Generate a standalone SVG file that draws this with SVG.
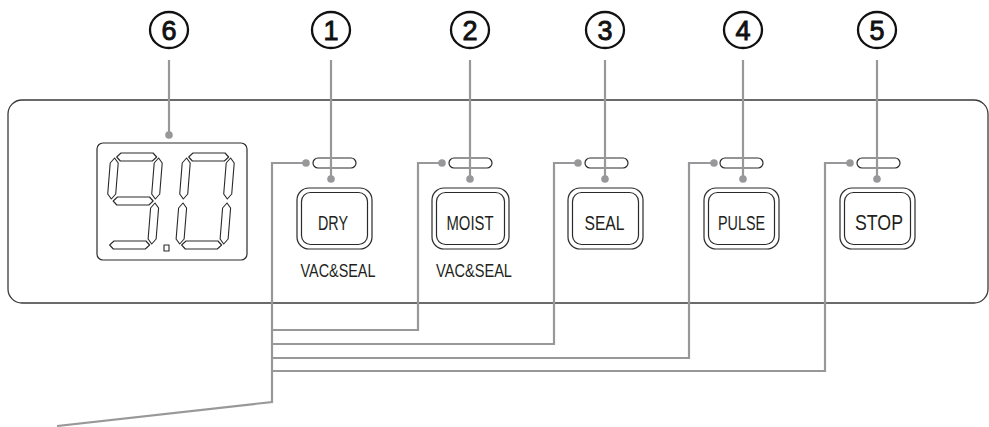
<svg xmlns="http://www.w3.org/2000/svg" xmlns:xlink="http://www.w3.org/1999/xlink" width="989" height="427" viewBox="0 0 989 427">
<style>
.panel{fill:none;stroke:#3a3a3a;stroke-width:1.3}
.btn{fill:none;stroke:#2a2a2a;stroke-width:1.2}
.seg{fill:none;stroke:#2a2a2a;stroke-width:1.1;stroke-linejoin:round}
.lead{fill:none;stroke:#98989b;stroke-width:2.2}
.dot{fill:#98989b}
.lbl{font-family:"Liberation Sans",Arial,sans-serif;fill:#231f20;text-anchor:middle}
.num{font-family:"Liberation Sans",Arial,sans-serif;font-size:27px;fill:#111;stroke:#111;stroke-width:0.9;text-anchor:middle}
.ring{fill:none;stroke:#111;stroke-width:2.3}
</style>
<defs>
<polygon id="sa" points="6,4 10,0 42,0 46,4 42,8 10,8"/>
<polygon id="sf" points="4,5 8,10 8,41 4,46 0,41 0,10"/>
<polygon id="sb" points="48,5 52,10 52,41 48,46 44,41 44,10"/>
<polygon id="sg" points="6,48 10,44 42,44 46,48 42,52 10,52"/>
<polygon id="se" points="4,50 8,55 8,86 4,91 0,86 0,55"/>
<polygon id="sc" points="48,50 52,55 52,86 48,91 44,86 44,55"/>
<polygon id="sd" points="6,92 10,88 42,88 46,92 42,96 10,96"/>
</defs>

<g id="panel">
<rect class="panel" x="8" y="100" width="980" height="203" rx="14"/>
</g>

<g id="display">
<rect class="btn" x="97" y="143" width="150" height="117" rx="6"/>
<g class="seg" transform="matrix(1,0,-0.08,1,111,153)">
<use xlink:href="#sa"/><use xlink:href="#sb"/><use xlink:href="#sc"/><use xlink:href="#sd"/><use xlink:href="#sf"/><use xlink:href="#sg"/>
</g>
<rect class="seg" x="164" y="245" width="5" height="6"/>
<g class="seg" transform="matrix(1,0,-0.08,1,183,153)">
<use xlink:href="#sa"/><use xlink:href="#sb"/><use xlink:href="#sc"/><use xlink:href="#sd"/><use xlink:href="#se"/><use xlink:href="#sf"/>
</g>
</g>

<g id="btn-dry">
<rect class="btn" x="313" y="158" width="43" height="10" rx="5"/>
<rect class="btn" x="297" y="188" width="75" height="61" rx="12"/>
<rect class="btn" x="301.5" y="192.5" width="66" height="52" rx="9"/>
<text class="lbl" x="333" y="230" font-size="19.5" textLength="30" lengthAdjust="spacingAndGlyphs">DRY</text>
<text class="lbl" x="338" y="277" font-size="18" textLength="75" lengthAdjust="spacingAndGlyphs">VAC&amp;SEAL</text>
</g>

<g id="btn-moist">
<rect class="btn" x="449" y="158" width="43" height="10" rx="5"/>
<rect class="btn" x="432" y="188" width="77" height="61" rx="12"/>
<rect class="btn" x="436.5" y="192.5" width="68" height="52" rx="9"/>
<text class="lbl" x="470" y="229.5" font-size="20" textLength="47" lengthAdjust="spacingAndGlyphs">MOIST</text>
<text class="lbl" x="474" y="276.5" font-size="18" textLength="76" lengthAdjust="spacingAndGlyphs">VAC&amp;SEAL</text>
</g>

<g id="btn-seal">
<rect class="btn" x="585" y="158" width="43" height="10" rx="5"/>
<rect class="btn" x="568" y="188" width="75" height="61" rx="12"/>
<rect class="btn" x="572.5" y="192.5" width="66" height="52" rx="9"/>
<text class="lbl" x="604.5" y="229.5" font-size="20" textLength="40" lengthAdjust="spacingAndGlyphs">SEAL</text>
</g>

<g id="btn-pulse">
<rect class="btn" x="720" y="158" width="43" height="10" rx="5"/>
<rect class="btn" x="704" y="188" width="75" height="61" rx="12"/>
<rect class="btn" x="708.5" y="192.5" width="66" height="52" rx="9"/>
<text class="lbl" x="741.5" y="229.5" font-size="20" textLength="47" lengthAdjust="spacingAndGlyphs">PULSE</text>
</g>

<g id="btn-stop">
<rect class="btn" x="857" y="158" width="43" height="10" rx="5"/>
<rect class="btn" x="840" y="188" width="75" height="61" rx="12"/>
<rect class="btn" x="844.5" y="192.5" width="66" height="52" rx="9"/>
<text class="lbl" x="879" y="229.5" font-size="22" textLength="48" lengthAdjust="spacingAndGlyphs">STOP</text>
</g>

<g id="callout-6"><ellipse class="ring" cx="169" cy="30" rx="19" ry="18"/><text class="num" x="169" y="39.5">6</text></g>
<g id="callout-1"><ellipse class="ring" cx="331" cy="30" rx="19" ry="18"/><text class="num" x="331" y="39.5">1</text></g>
<g id="callout-2"><ellipse class="ring" cx="470" cy="30" rx="19" ry="18"/><text class="num" x="470" y="39.5">2</text></g>
<g id="callout-3"><ellipse class="ring" cx="605" cy="30" rx="19" ry="18"/><text class="num" x="605" y="39.5">3</text></g>
<g id="callout-4"><ellipse class="ring" cx="743" cy="30" rx="19" ry="18"/><text class="num" x="743" y="39.5">4</text></g>
<g id="callout-5"><ellipse class="ring" cx="877" cy="30" rx="19" ry="18"/><text class="num" x="877" y="39.5">5</text></g>

<g id="connectors">
<path class="lead" d="M169,60 V135"/>
<path class="lead" d="M331,60 V179"/>
<path class="lead" d="M470,60 V179"/>
<path class="lead" d="M605,60 V179"/>
<path class="lead" d="M743,60 V179"/>
<path class="lead" d="M877,60 V179"/>
<path class="lead" d="M306,163 H272 V402 L57,426"/>
<path class="lead" d="M442,163 H418 V330 H272"/>
<path class="lead" d="M578,163 H554 V344 H272"/>
<path class="lead" d="M714,163 H689 V358 H272"/>
<path class="lead" d="M850,163 H825 V371 H272"/>
<circle class="dot" cx="169" cy="135" r="3.8"/>
<circle class="dot" cx="331" cy="179" r="3.8"/>
<circle class="dot" cx="470" cy="179" r="3.8"/>
<circle class="dot" cx="605" cy="179" r="3.8"/>
<circle class="dot" cx="743" cy="179" r="3.8"/>
<circle class="dot" cx="877" cy="179" r="3.8"/>
<circle class="dot" cx="306" cy="163" r="3.8"/>
<circle class="dot" cx="442" cy="163" r="3.8"/>
<circle class="dot" cx="578" cy="163" r="3.8"/>
<circle class="dot" cx="714" cy="163" r="3.8"/>
<circle class="dot" cx="850" cy="163" r="3.8"/>
</g>
</svg>
